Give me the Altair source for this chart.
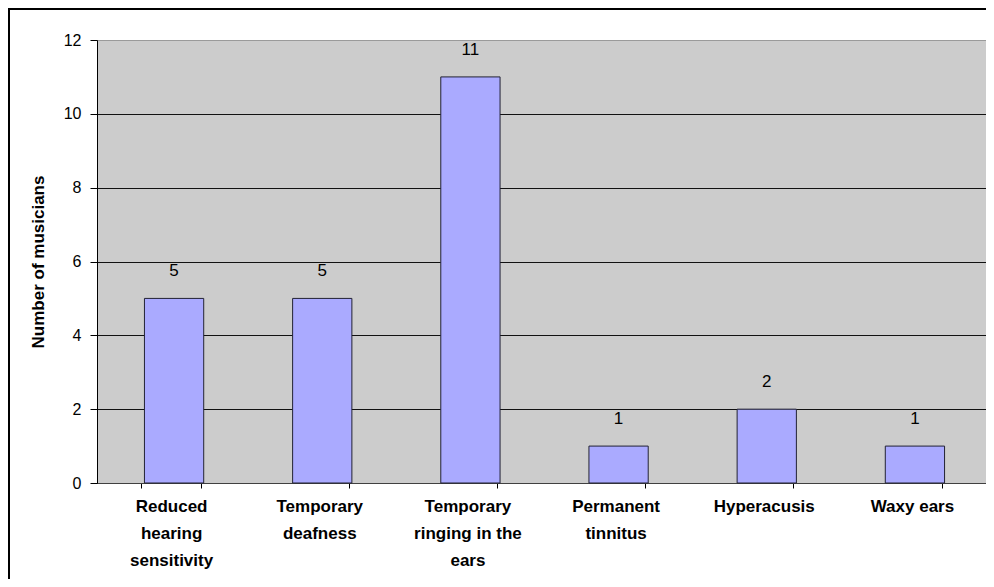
import altair as alt
import pandas as pd

categories = [
    "Reduced|hearing|sensitivity",
    "Temporary|deafness",
    "Temporary|ringing in the|ears",
    "Permanent|tinnitus",
    "Hyperacusis",
    "Waxy ears",
]
values = [5, 5, 11, 1, 2, 1]
y_ticks = [0, 2, 4, 6, 8, 10, 12]

df = pd.DataFrame({"symptom": categories, "count": values})

FONT = "Liberation Sans"
W, H = 889, 443

x_enc = alt.X(
    "symptom:N",
    sort=categories,
    scale=alt.Scale(paddingInner=0.6, paddingOuter=0.3),
    axis=alt.Axis(
        title=None,
        labelAngle=0,
        labelExpr="split(datum.label, '|')",
        labelFont=FONT,
        labelFontSize=17,
        labelFontWeight="bold",
        labelColor="black",
        labelLineHeight=27,
        labelPadding=10,
        labelBaseline="top",
        tickBand="extent",
        tickSize=5,
        tickColor="black",
        domainColor="#404040",
        grid=False,
    ),
)

y_enc = alt.Y(
    "count:Q",
    scale=alt.Scale(domain=[0, 12], nice=False),
    axis=alt.Axis(
        title="Number of musicians",
        titleFont=FONT,
        titleFontSize=17,
        titleFontWeight="bold",
        titleColor="black",
        titlePadding=16,
        values=y_ticks,
        labelFont=FONT,
        labelFontSize=16,
        labelColor="black",
        labelPadding=9,
        tickSize=7,
        tickColor="black",
        domainColor="black",
        gridColor={"condition": {"test": "datum.value == 12", "value": "#9a9a9a"}, "value": "#111111"},
        gridWidth=1,
    ),
)

bars = alt.Chart(df).mark_bar(
    fill="#AAAAFF", stroke="#222233", strokeWidth=1, xOffset=3
).encode(x=x_enc, y=y_enc)

labels = alt.Chart(df).mark_text(
    font=FONT, fontSize=17, color="black", dy=-27, baseline="middle", xOffset=3
).encode(x=alt.X("symptom:N", sort=categories), y="count:Q", text="count:Q")

frame = alt.Chart(df).mark_rect(
    fill=None, stroke="black", strokeWidth=2, clip=False
).encode(
    x=alt.value(-88), x2=alt.value(W + 20),
    y=alt.value(-31), y2=alt.value(H + 200),
)

chart = alt.layer(bars, labels, frame).properties(
    width=W,
    height=H,
    autosize=alt.AutoSizeParams(type="none"),
    padding={"left": 89, "top": 32, "right": 0, "bottom": 96},
    background="white",
).configure_view(
    fill="#CCCCCC", stroke="#808080", strokeWidth=1
)

chart.save("out.html", embed_options={"renderer": "svg", "actions": False})
